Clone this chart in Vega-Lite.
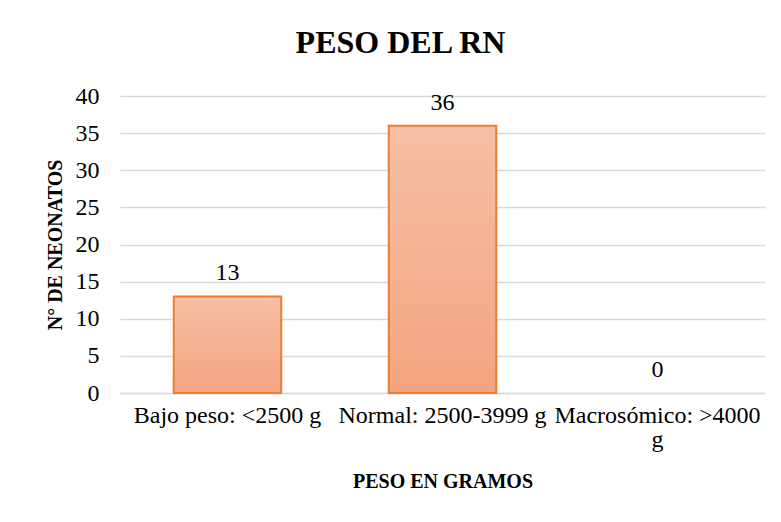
{
  "$schema": "https://vega.github.io/schema/vega-lite/v6.json",
  "width": 645,
  "height": 297,
  "autosize": {"type": "none"},
  "padding": {"left": 120, "top": 96, "right": 16, "bottom": 129},
  "background": "white",
  "title": {
    "text": "PESO DEL RN",
    "font": "'Liberation Serif', 'Times New Roman', serif",
    "fontSize": 32,
    "fontWeight": "bold",
    "color": "#000000",
    "anchor": "middle",
    "dx": -42,
    "offset": 24
  },
  "data": {
    "values": [
      {"categoria": "Bajo peso: <2500 g", "neonatos": 13},
      {"categoria": "Normal: 2500-3999 g", "neonatos": 36},
      {"categoria": "Macrosómico: >4000 g", "neonatos": 0}
    ]
  },
  "encoding": {
    "x": {
      "field": "categoria",
      "type": "nominal",
      "sort": null,
      "scale": {"paddingInner": 0.5, "paddingOuter": 0.25},
      "axis": {
        "title": "PESO EN GRAMOS",
        "titleFont": "'Liberation Serif', 'Times New Roman', serif",
        "titleFontSize": 20,
        "titleFontWeight": "bold",
        "titleColor": "#000000",
        "titlePadding": 20,
        "labelFont": "'Liberation Serif', 'Times New Roman', serif",
        "labelFontSize": 24,
        "labelColor": "#000000",
        "labelAngle": 0,
        "labelPadding": 10,
        "labelLimit": 400,
        "labelLineHeight": 24,
        "labelExpr": "datum.label == 'Macrosómico: >4000 g' ? ['Macrosómico: >4000', 'g'] : datum.label",
        "ticks": false,
        "domainColor": "#D9D9D9",
        "domainWidth": 1.5,
        "grid": false
      }
    },
    "y": {
      "field": "neonatos",
      "type": "quantitative",
      "scale": {"domain": [0, 40]},
      "axis": {
        "title": "N° DE NEONATOS",
        "titleFont": "'Liberation Serif', 'Times New Roman', serif",
        "titleFontSize": 20,
        "titleFontWeight": "bold",
        "titleColor": "#000000",
        "titlePadding": 10,
        "values": [0, 5, 10, 15, 20, 25, 30, 35, 40],
        "labelFont": "'Liberation Serif', 'Times New Roman', serif",
        "labelFontSize": 24,
        "labelColor": "#000000",
        "labelPadding": 21,
        "ticks": false,
        "domain": false,
        "grid": true,
        "gridColor": "#D9D9D9",
        "gridWidth": 1.5
      }
    }
  },
  "layer": [
    {
      "transform": [{"filter": "datum.neonatos > 0"}],
      "mark": {
        "type": "bar",
        "stroke": "#ED7D31",
        "strokeWidth": 2,
        "fill": {
          "gradient": "linear",
          "x1": 0, "y1": 0, "x2": 0, "y2": 1,
          "stops": [
            {"offset": 0, "color": "#F6BFA4"},
            {"offset": 1, "color": "#F4A47F"}
          ]
        }
      }
    },
    {
      "mark": {
        "type": "text",
        "font": "'Liberation Serif', 'Times New Roman', serif",
        "fontSize": 24,
        "color": "#000000",
        "baseline": "alphabetic",
        "dy": -16
      },
      "encoding": {"text": {"field": "neonatos", "type": "quantitative"}}
    }
  ],
  "config": {"view": {"stroke": null}}
}
